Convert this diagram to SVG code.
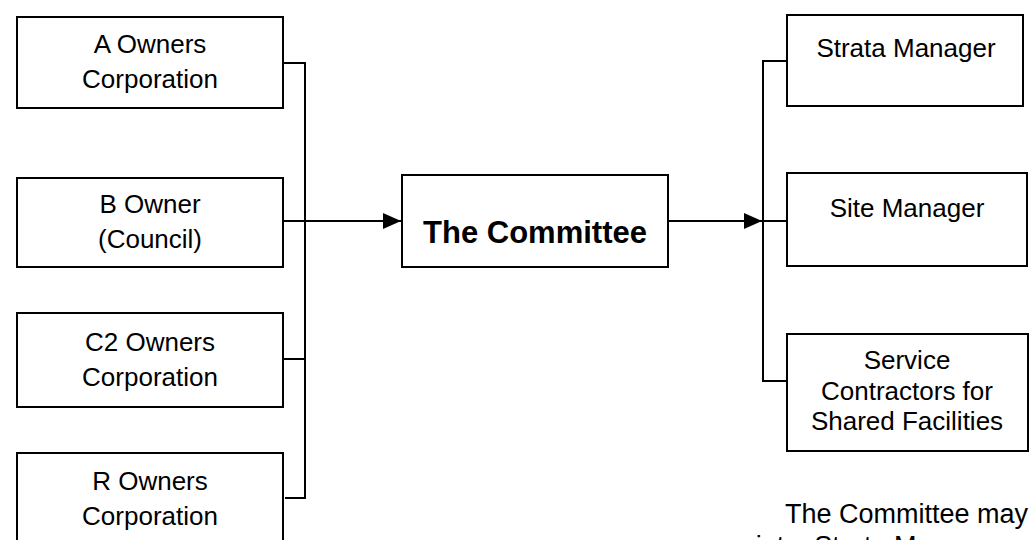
<svg xmlns="http://www.w3.org/2000/svg" width="1032" height="540" viewBox="0 0 1032 540">
<style>
.box{fill:#fff;stroke:#000;stroke-width:2}
.ln{fill:none;stroke:#000;stroke-width:2}
.t{font-family:"Liberation Sans",Arial,sans-serif;font-size:26px;fill:#000;text-anchor:middle}
.tb{font-family:"Liberation Sans",Arial,sans-serif;font-size:31px;font-weight:bold;fill:#000;text-anchor:middle}
.note{font-family:"Liberation Sans",Arial,sans-serif;font-size:27px;fill:#000;text-anchor:end}
</style>
<defs>
<marker id="arr" viewBox="0 0 10 10" refX="10" refY="5" markerWidth="9" markerHeight="9" markerUnits="userSpaceOnUse" orient="auto">
<path d="M0,0 L10,5 L0,10 z" fill="#000"/>
</marker>
<marker id="arrow" viewBox="0 0 18 18" refX="18" refY="9" markerWidth="18" markerHeight="18" markerUnits="userSpaceOnUse" orient="auto">
<path d="M0,1 L18,9 L0,17 z" fill="#000"/>
</marker>
</defs>
<rect width="1032" height="540" fill="#fff"/>
<g id="connectors">
<polyline class="ln" points="283,63 305,63 305,498 285,498"/>
<line class="ln" x1="283" y1="359" x2="305" y2="359"/>
<line class="ln" x1="283" y1="221" x2="401" y2="221" marker-end="url(#arrow)"/>
<line class="ln" x1="668" y1="221" x2="762" y2="221" marker-end="url(#arrow)"/>
<polyline class="ln" points="787,61 763,61 763,381 787,381"/>
<line class="ln" x1="763" y1="221" x2="787" y2="221"/>
</g>
<g id="node-a">
<rect class="box" x="17" y="17" width="266" height="91"/>
<text class="t" x="150" y="53">A Owners</text>
<text class="t" x="150" y="88">Corporation</text>
</g>
<g id="node-b">
<rect class="box" x="17" y="178" width="266" height="89"/>
<text class="t" x="150" y="213">B Owner</text>
<text class="t" x="150" y="248">(Council)</text>
</g>
<g id="node-c2">
<rect class="box" x="17" y="313" width="266" height="94"/>
<text class="t" x="150" y="351">C2 Owners</text>
<text class="t" x="150" y="386">Corporation</text>
</g>
<g id="node-r">
<rect class="box" x="17" y="453" width="266" height="100"/>
<text class="t" x="150" y="490">R Owners</text>
<text class="t" x="150" y="525">Corporation</text>
</g>
<g id="node-committee">
<rect class="box" x="402" y="175" width="266" height="92"/>
<text class="tb" x="535" y="243">The Committee</text>
</g>
<g id="node-strata">
<rect class="box" x="787" y="15" width="236" height="91"/>
<text class="t" x="906" y="57">Strata Manager</text>
</g>
<g id="node-site">
<rect class="box" x="787" y="173" width="240" height="93"/>
<text class="t" x="907" y="217">Site Manager</text>
</g>
<g id="node-service">
<rect class="box" x="787" y="334" width="241" height="117"/>
<text class="t" x="907" y="369">Service</text>
<text class="t" x="907" y="400">Contractors for</text>
<text class="t" x="907" y="430">Shared Facilities</text>
</g>
<g id="note">
<text class="note" x="1028" y="523">The Committee may</text>
<text class="note" x="1029" y="555">appoint a Strata Manager, a</text>
</g>
</svg>
